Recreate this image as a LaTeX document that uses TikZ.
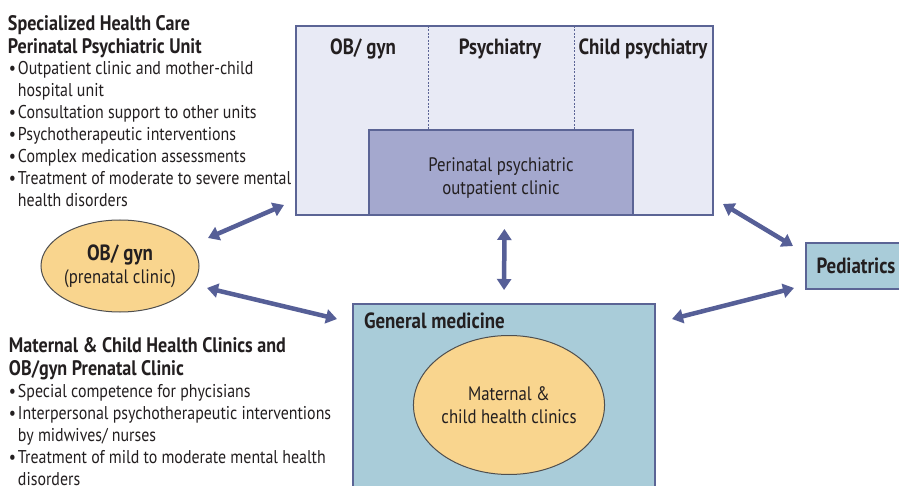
\documentclass[tikz,border=0pt]{standalone}
\usepackage{fontspec}
\setmainfont{PT Sans}[FakeStretch=0.86]
\usetikzlibrary{positioning, shapes.geometric, arrows.meta}

\definecolor{frame}{HTML}{5B6495}
\definecolor{arrowc}{HTML}{565F97}
\definecolor{lav}{HTML}{E8EAF5}
\definecolor{lavdark}{HTML}{A4A8CE}
\definecolor{teal}{HTML}{A9CCD9}
\definecolor{blob}{HTML}{F9D58E}
\definecolor{blobline}{HTML}{4F4F4F}
\definecolor{txt}{HTML}{231F20}

\newcommand\bul{\makebox[9pt][l]{\textbullet}}
\newcommand\ind{\hspace*{9pt}}

\begin{document}
\begin{tikzpicture}[x=1pt, y=-1pt, every node/.style={inner sep=0pt, outer sep=0pt, text=txt},
  box/.style={draw=frame, line width=1.2pt, rectangle},
  blob/.style={draw=blobline, line width=1pt, ellipse, fill=blob},
  biarrow/.style={draw=arrowc, line width=4.5pt, {Triangle[width=14pt,length=11pt]}-{Triangle[width=14pt,length=11pt]}},
  divider/.style={draw=frame, line width=0.8pt, dash pattern=on 2pt off 1.5pt},
  head/.style={font=\fontsize{22}{24}\selectfont\bfseries, anchor=base},
  plain/.style={font=\fontsize{19.5}{23}\selectfont, align=center},
  title/.style={font=\fontsize{21}{23}\selectfont\bfseries, align=left, anchor=base west},
  list/.style={font=\fontsize{18.5}{22}\selectfont, align=left, anchor=base west}]
  \fill[white] (0, 0) rectangle (899, 486);
  \useasboundingbox (0, 0) rectangle (899, 486);

  % specialized care
  \node[box, fill=lav, minimum width=417pt, minimum height=189pt] at (504.5, 120.5) (spec) {};
  \node[head] at (363, 55) (hobgyn) {OB/ gyn};
  \node[head] at (500, 55) (hpsych) {Psychiatry};
  \node[head] at (643, 55) (hchild) {Child psychiatry};
  \node[box, fill=lavdark, minimum width=264pt, minimum height=85pt] at (501, 172.5) (perinatal) {};
  \node[plain] at (501, 178) (perinataltext) {Perinatal psychiatric\\outpatient clinic};
  \draw[divider] ([xshift=132pt]spec.north west) -- ([xshift=132pt]spec.north west |- perinatal.north);
  \draw[divider] ([xshift=278pt]spec.north west) -- ([xshift=278pt]spec.north west |- perinatal.north);

  % primary care
  \node[box, fill=teal, minimum width=302pt, minimum height=186pt] at (504, 397) (genmed) {};
  \node[head, anchor=base west] at (364, 328) (gmlabel) {General medicine};
  \node[blob, plain, minimum width=186pt, minimum height=139pt] at (509, 405) (mch) {Maternal \&\\child health clinics};

  \node[blob, plain, minimum width=154pt, minimum height=92pt] at (120, 266) (obgyn)
    {{\fontsize{22}{24}\selectfont\bfseries OB/ gyn}\\(prenatal clinic)};
  \node[box, fill=teal, minimum width=110pt, minimum height=46pt,
        font=\fontsize{22}{24}\selectfont\bfseries] at (861, 266) (peds) {Pediatrics\hspace*{10pt}};

  % texts
  \node[title] at (8, 54) (spectitle) {Specialized Health Care\\Perinatal Psychiatric Unit};
  \node[list] at (9, 207) (speclist) {\bul Outpatient clinic and mother-child\\
    \ind hospital unit\\
    \bul Consultation support to other units\\
    \bul Psychotherapeutic interventions\\
    \bul Complex medication assessments\\
    \bul Treatment of moderate to severe mental\\
    \ind health disorders};
  \node[title] at (9, 375) (primtitle) {Maternal \& Child Health Clinics and\\OB/gyn Prenatal Clinic};
  \node[list] at (9, 485) (primlist) {\bul Special competence for phycisians\\
    \bul Interpersonal psychotherapeutic interventions\\
    \ind by midwives/ nurses\\
    \bul Treatment of mild to moderate mental health\\
    \ind disorders};

  \draw[biarrow] ([xshift=9pt, yshift=28pt]obgyn.east) -- ([xshift=-12pt, yshift=10pt]spec.south west);
  \draw[biarrow] ([xshift=8pt, yshift=-22pt]obgyn.east) -- ([xshift=-16pt, yshift=-15pt]genmed.north west);
  \draw[biarrow, shorten <=14pt, shorten >=14pt] (spec.south) -- (genmed.north);
  \draw[biarrow] ([xshift=10pt, yshift=11pt]spec.south east) -- ([xshift=-13pt, yshift=-3pt]peds.north west);
  \draw[biarrow] ([xshift=17pt, yshift=-15pt]genmed.north east) -- ([xshift=-12pt, yshift=1pt]peds.south west);
\end{tikzpicture}
\end{document}
